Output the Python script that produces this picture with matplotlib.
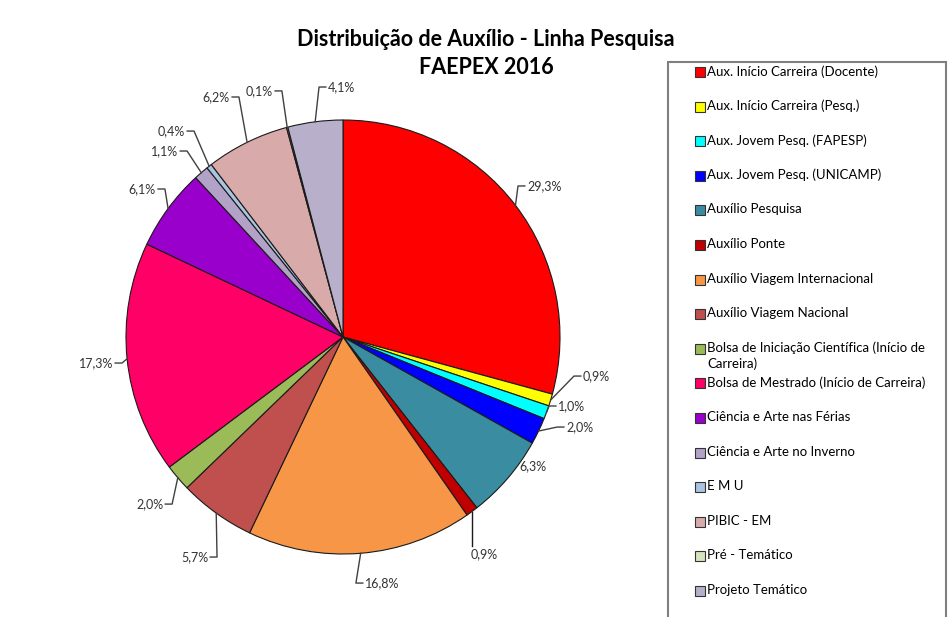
import numpy as np
import matplotlib
matplotlib.use("Agg")
import matplotlib.pyplot as plt
from matplotlib.patches import Rectangle


# data
categories = [
    "Aux. Início Carreira (Docente)",
    "Aux. Início Carreira (Pesq.)",
    "Aux. Jovem Pesq. (FAPESP)",
    "Aux. Jovem Pesq. (UNICAMP)",
    "Auxílio Pesquisa",
    "Auxílio Ponte",
    "Auxílio Viagem Internacional",
    "Auxílio Viagem Nacional",
    "Bolsa de Iniciação Científica (Início de\nCarreira)",
    "Bolsa de Mestrado (Início de Carreira)",
    "Ciência e Arte nas Férias",
    "Ciência e Arte no Inverno",
    "E M U",
    "PIBIC - EM",
    "Pré - Temático",
    "Projeto Temático",
]

percent = [29.3, 0.9, 1.0, 2.0, 6.3, 0.9, 16.8, 5.7, 2.0, 17.3, 6.1, 1.1, 0.4, 6.2, 0.1, 4.1]

colors = [
    "#FF0000", "#FFFF00", "#00FFFF", "#0000FF", "#3A8CA0", "#C00000",
    "#F79646", "#C0504D", "#9BBB59", "#FF0066", "#9900CC", "#B3A2C7",
    "#A9C3E0", "#D9AAAA", "#D7E4BD", "#B8B0CA",
]

# label placement (pie radius = 1): x, y, side ("R", "L", "C" no leader, "B" below)
label_pos = [
    (0.848, 0.696, "R"), (1.106, -0.180, "R"), (0.991, -0.318, "R"), (1.028, -0.415, "R"),
    (0.876, -0.594, "C"), (0.650, -1.000, "B"), (0.101, -1.134, "R"), (-0.622, -1.014, "L"),
    (-0.829, -0.770, "L"), (-1.060, -0.120, "L"), (-0.862, 0.682, "L"), (-0.760, 0.857, "L"),
    (-0.728, 0.949, "L"), (-0.521, 1.106, "L"), (-0.323, 1.134, "L"), (-0.069, 1.152, "R"),
]


W, H = 952, 617
CX, CY, R = 343, 337, 217

fig = plt.figure(figsize=(W / 100, H / 100), dpi=100)
fig.patch.set_facecolor("white")

ax = fig.add_axes([0, 0, 1, 1])

wedges, _ = ax.pie(
    percent, colors=colors, startangle=90, counterclock=False, radius=1.0,
    wedgeprops=dict(edgecolor="#1a1a1a", linewidth=0.8),
)
# pie() resets the limits, so set them afterwards
ax.set_xlim(-CX / R, (W - CX) / R)
ax.set_ylim(-(H - CY) / R, CY / R)
ax.axis("off")

font = ["Lato", "DejaVu Sans"]
gap = 9 / R
line_col = "#404040"
lab_size = 9

for w, p, (tx, ty, side) in zip(wedges, percent, label_pos):
    mid = np.deg2rad((w.theta1 + w.theta2) / 2)
    ex, ey = np.cos(mid), np.sin(mid)
    txt = f"{p:.1f}%".replace(".", ",")
    if side == "C":
        ax.text(tx, ty, txt, ha="center", va="center", fontsize=lab_size, color="#333333", family=font)
    elif side == "B":
        ax.plot([ex, ex], [ey, ty + 0.035], color="#1a1a1a", lw=1)
        ax.text(tx, ty, txt, ha="center", va="center", fontsize=lab_size, color="#333333", family=font)
    elif side == "R":
        elx = tx - gap
        ax.plot([ex, elx, tx - 0.01], [ey, ty, ty], color=line_col, lw=1)
        ax.text(tx, ty, txt, ha="left", va="center", fontsize=lab_size, color="#333333", family=font)
    else:
        elx = tx + gap
        ax.plot([ex, elx, tx + 0.01], [ey, ty, ty], color=line_col, lw=1)
        ax.text(tx, ty, txt, ha="right", va="center", fontsize=lab_size, color="#333333", family=font)

# title
fig.text(486 / W, 1 - 40 / H, "Distribuição de Auxílio - Linha Pesquisa", ha="center", va="center",
         fontsize=15.5, fontweight="bold", family=font)
fig.text(486 / W, 1 - 68 / H, "FAEPEX 2016", ha="center", va="center",
         fontsize=15.5, fontweight="bold", family=font)

# legend box
fig.patches.append(Rectangle((668 / W, -0.05), (946 - 668) / W, 1 - 62 / H + 0.05,
                             transform=fig.transFigure, facecolor="none",
                             edgecolor="#7f7f7f", linewidth=1.5))
step = 34.6
for i, (name, col) in enumerate(zip(categories, colors)):
    yc = 72 + step * i
    fig.patches.append(Rectangle((695 / W, 1 - (yc + 5) / H), 10 / W, 10 / H,
                                 transform=fig.transFigure, facecolor=col,
                                 edgecolor="#333333", linewidth=0.8))
    fig.text(707 / W, 1 - (yc - 7) / H, name, ha="left", va="top", fontsize=9.5,
             family=font, linespacing=1.25)

fig.savefig("out.png", dpi=100)
